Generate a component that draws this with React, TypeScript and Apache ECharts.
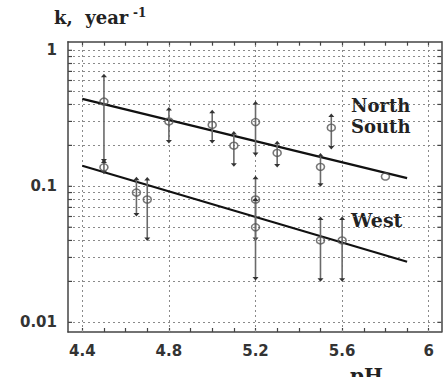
import React, { useEffect, useRef } from "react";
import * as echarts from "echarts";

// ---- data ----
const xTickValues = [4.4, 4.5, 4.6, 4.7, 4.8, 4.9, 5.0, 5.1, 5.2, 5.3, 5.4, 5.5, 5.6, 5.7, 5.8, 5.9, 6.0];
const xLabelValues = [4.4, 4.8, 5.2, 5.6, 6.0];
const yMajorValues = [0.01, 0.1, 1];
const yGridValues = [
  0.01, 0.02, 0.03, 0.04, 0.05, 0.06, 0.07, 0.08, 0.09,
  0.1, 0.2, 0.3, 0.4, 0.5, 0.6, 0.7, 0.8, 0.9, 1,
];

const nsX = [4.5, 4.8, 5.0, 5.1, 5.2, 5.3, 5.5, 5.55, 5.8];
const nsY = [0.42, 0.3, 0.283, 0.199, 0.297, 0.176, 0.139, 0.27, 0.118];
const nsLow = [0.155, 0.214, 0.214, 0.144, 0.173, 0.142, 0.1025, 0.193, null];
const nsHigh = [0.65, 0.37, 0.353, 0.247, 0.41, 0.209, 0.17, 0.332, null];

const westX = [4.5, 4.65, 4.7, 5.2, 5.2, 5.5, 5.6];
const westY = [0.138, 0.09, 0.08, 0.08, 0.05, 0.04, 0.04];
const westLow = [0.127, 0.062, 0.041, 0.041, 0.021, 0.0206, 0.0206];
const westHigh = [0.152, 0.1135, 0.113, 0.1155, 0.08, 0.058, 0.058];

const nsFitX = [4.4, 5.9];
const nsFitY = [0.44, 0.115];
const westFitX = [4.4, 5.9];
const westFitY = [0.1415, 0.0279];

const X_MIN = 4.334;
const X_MAX = 6.058;
const Y_MIN = 0.00849;
const Y_MAX = 1.157;

const LABEL_FONT = "DejaVu Sans";
const SERIF = "DejaVu Serif";

export default function App() {
  const ref = useRef<HTMLDivElement>(null);

  useEffect(() => {
    if (!ref.current) return;
    const chart = echarts.init(ref.current, undefined, { renderer: "svg" });

    const errData: number[][] = [];
    nsX.forEach((x, i) => {
      if (nsLow[i] != null && nsHigh[i] != null) errData.push([x, nsLow[i] as number, nsHigh[i] as number]);
    });
    westX.forEach((x, i) => errData.push([x, westLow[i], westHigh[i]]));

    const pts: number[][] = [];
    nsX.forEach((x, i) => pts.push([x, nsY[i]]));
    westX.forEach((x, i) => pts.push([x, westY[i]]));

    const gridLine = { color: "#8a8a8a", width: 1, type: [2, 3] as number[] };
    const axisLineStyle = { lineStyle: { color: "#444", width: 1.5 } };

    const isMajor = (v: number) => yMajorValues.some((m) => Math.abs(m - v) / m < 1e-6);

    const option: any = {
      animation: false,
      backgroundColor: "#fff",
      grid: { left: 68, top: 41.7, right: 4.7, bottom: 45, containLabel: false },
      xAxis: [
        {
          type: "value",
          min: X_MIN,
          max: X_MAX,
          position: "bottom",
          axisLine: { show: true, onZero: false, ...axisLineStyle },
          axisTick: { show: true, inside: true, length: 4, customValues: xTickValues, lineStyle: { color: "#444", width: 1.2 } },
          axisLabel: {
            show: true,
            customValues: xLabelValues,
            margin: 11,
            fontFamily: LABEL_FONT,
            fontWeight: "bold",
            fontSize: 15,
            color: "#333",
            formatter: (v: number) => (Math.abs(v - 6) < 1e-9 ? "6" : v.toFixed(1)),
          },
          splitLine: { show: false },
        },
        {
          type: "value",
          min: X_MIN,
          max: X_MAX,
          position: "top",
          axisLine: { show: true, onZero: false, ...axisLineStyle },
          axisTick: { show: true, inside: true, length: 4, customValues: xTickValues, lineStyle: { color: "#444", width: 1.2 } },
          axisLabel: { show: false },
          splitLine: { show: false },
        },
      ],
      yAxis: [
        {
          type: "log",
          logBase: 10,
          min: Y_MIN,
          max: Y_MAX,
          position: "left",
          axisLine: { show: true, onZero: false, ...axisLineStyle },
          axisTick: { show: false },
          axisLabel: {
            show: true,
            margin: 11,
            showMinLabel: false,
            showMaxLabel: false,
            fontFamily: LABEL_FONT,
            fontWeight: "bold",
            fontSize: 15,
            color: "#333",
            padding: [0, 0, 5, 0],
            formatter: (v: number) => {
              const r = +Number(v).toPrecision(3);
              return isMajor(r) ? String(r) : "";
            },
          },
          splitLine: { show: false },
        },
        {
          type: "log",
          logBase: 10,
          min: Y_MIN,
          max: Y_MAX,
          position: "right",
          axisLine: { show: true, onZero: false, ...axisLineStyle },
          axisTick: { show: false },
          axisLabel: { show: false },
          splitLine: { show: false },
        },
      ],
      series: [
        {
          type: "line",
          name: "North/South fit",
          data: nsFitX.map((x, i) => [x, nsFitY[i]]),
          showSymbol: false,
          symbol: "none",
          lineStyle: { color: "#111", width: 2.2 },
          z: 5,
          markLine: {
            silent: true,
            symbol: "none",
            label: { show: false },
            lineStyle: gridLine,
            data: [
              ...yGridValues.map((v) => ({ yAxis: v })),
              ...xLabelValues.map((v) => ({ xAxis: v })),
            ],
            z: 1,
          },
        },
        {
          type: "line",
          name: "West fit",
          data: westFitX.map((x, i) => [x, westFitY[i]]),
          showSymbol: false,
          symbol: "none",
          lineStyle: { color: "#111", width: 2.2 },
          z: 5,
        },
        {
          type: "custom",
          name: "yMinorTicks",
          data: yGridValues.map((v) => [X_MIN, v]),
          encode: { x: 0, y: 1 },
          silent: true,
          z: 4,
          renderItem: (params: any, api: any) => {
            const p = api.coord([api.value(0), api.value(1)]);
            const cs = params.coordSys;
            const x0 = cs.x;
            const x1 = cs.x + cs.width;
            return {
              type: "group",
              children: [
                { type: "line", shape: { x1: x0, y1: p[1], x2: x0 + 4, y2: p[1] }, style: { stroke: "#444", lineWidth: 1.2 } },
                { type: "line", shape: { x1: x1 - 4, y1: p[1], x2: x1, y2: p[1] }, style: { stroke: "#444", lineWidth: 1.2 } },
              ],
            };
          },
        },
        {
          type: "custom",
          name: "errors",
          data: errData,
          encode: { x: 0, y: [1, 2] },
          z: 6,
          renderItem: (params: any, api: any) => {
            const x = api.value(0);
            const lo = api.value(1);
            const hi = api.value(2);
            const p1 = api.coord([x, lo]);
            const p2 = api.coord([x, hi]);
            return {
              type: "group",
              children: [
                {
                  type: "line",
                  shape: { x1: p1[0], y1: p1[1], x2: p2[0], y2: p2[1] },
                  style: { stroke: "#6a6a6a", lineWidth: 1.6 },
                },
                {
                  type: "polygon",
                  shape: { points: [[p1[0] - 3, p1[1] - 1.5], [p1[0] + 3, p1[1] - 1.5], [p1[0], p1[1] + 2]] },
                  style: { fill: "#333" },
                },
                {
                  type: "polygon",
                  shape: { points: [[p2[0] - 3, p2[1] + 1.5], [p2[0] + 3, p2[1] + 1.5], [p2[0], p2[1] - 2]] },
                  style: { fill: "#333" },
                },
              ],
            };
          },
        },
        {
          type: "scatter",
          name: "points",
          data: pts,
          symbol: "circle",
          symbolSize: [8, 7],
          itemStyle: { color: "rgba(255,255,255,0)", borderColor: "#555", borderWidth: 1.5 },
          z: 7,
        },
      ],
      graphic: [
        {
          type: "text",
          left: 54,
          top: 8,
          style: { text: "k,  year", font: `bold 18px "${SERIF}"`, fill: "#222" },
        },
        {
          type: "text",
          left: 133,
          top: 7,
          style: { text: "-1", font: `bold 12px "${SERIF}"`, fill: "#222" },
        },
        {
          type: "text",
          left: 351,
          top: 96,
          style: { text: "North", font: `bold 18px "${SERIF}"`, fill: "#222" },
        },
        {
          type: "text",
          left: 351,
          top: 117,
          style: { text: "South", font: `bold 18px "${SERIF}"`, fill: "#222" },
        },
        {
          type: "text",
          left: 351,
          top: 210,
          style: { text: "West", font: `bold 19px "${SERIF}"`, fill: "#222" },
        },
        {
          type: "text",
          left: 350,
          top: 366,
          style: { text: "pH", font: `bold 20px "${SERIF}"`, fill: "#222" },
        },
      ],
    };

    chart.setOption(option);
    return () => chart.dispose();
  }, []);

  return <div ref={ref} style={{ width: 446, height: 377, position: "absolute", left: 0, top: 0 }} />;
}
